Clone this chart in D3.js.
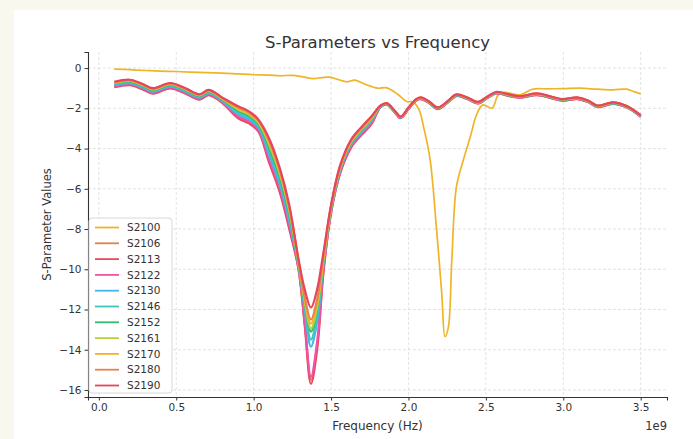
<html>
  <head>
    <title>S-Parameters vs Frequency</title>
    <style>
      html, body {
        margin: 0;
        padding: 0;
        background: #f9f8ef;
      }
      svg text {
        font-family: "DejaVu Sans", sans-serif;
        fill: #333;
      }
    </style>
  </head>
  <body>

<svg id="viz"></svg>

<script src="https://d3js.org/d3.v7.min.js"></script>
<script>
// frequency in units of 1e9 Hz
var freqS2100 = [0.10,0.20,0.30,0.40,0.50,0.60,0.70,0.80,0.90,1.00,1.10,1.17,1.25,1.32,1.385,1.44,1.49,1.55,1.60,1.655,1.72,1.80,1.86,1.93,1.99,2.03,2.07,2.10,2.14,2.18,2.215,2.236,2.258,2.28,2.31,2.355,2.40,2.44,2.48,2.54,2.58,2.62,2.72,2.80,2.90,3.00,3.11,3.22,3.32,3.41,3.45,3.50];
var valS2100 = [-0.05,-0.08,-0.12,-0.15,-0.17,-0.20,-0.23,-0.25,-0.29,-0.33,-0.35,-0.38,-0.36,-0.44,-0.52,-0.47,-0.45,-0.58,-0.68,-0.60,-0.80,-1.00,-0.98,-1.30,-1.66,-1.68,-2.10,-3.00,-4.56,-7.88,-11.2,-13.35,-12.86,-9.54,-5.89,-4.56,-3.40,-2.32,-1.83,-1.99,-1.33,-1.21,-1.33,-1.05,-1.03,-1.02,-1.00,-1.05,-1.08,-1.05,-1.15,-1.28];

var bandFreq = [0.10,0.20,0.28,0.35,0.46,0.56,0.65,0.71,0.80,0.90,0.97,1.03,1.10,1.17,1.23,1.29,1.33,1.37,1.41,1.45,1.50,1.56,1.63,1.70,1.76,1.82,1.86,1.91,1.95,2.00,2.05,2.08,2.13,2.19,2.25,2.31,2.38,2.45,2.51,2.57,2.65,2.72,2.83,2.92,2.99,3.09,3.16,3.22,3.32,3.41,3.50];

var valS2106 = [-0.92,-0.82,-1.02,-1.24,-0.98,-1.24,-1.54,-1.32,-1.72, -2.45,-2.70,-3.10,-4.60,-6.10,-7.90, -10.0,-12.7,-15.5,-13.8,-10.2, -7.15,-5.15,-3.90,-3.25,-2.75,
  -1.93,-1.81,-2.18,-2.48,-2.03,-1.61,-1.53,-1.71,-2.03,-1.73,-1.38,-1.53,-1.75,-1.48,-1.25,-1.38,-1.47,-1.33,-1.48,-1.61,-1.53,-1.68,-1.93,-1.77,-1.95,-2.41];
var valS2113 = [-0.95,-0.85,-1.05,-1.27,-1.01,-1.27,-1.57,-1.35,-1.75, -2.50,-2.75,-3.15,-4.70,-6.20,-8.00, -10.0,-12.8,-15.7,-14.0,-10.2, -7.20,-5.20,-3.95,-3.30,-2.80,
  -1.94,-1.82,-2.19,-2.49,-2.04,-1.62,-1.54,-1.72,-2.04,-1.74,-1.39,-1.54,-1.76,-1.49,-1.26,-1.39,-1.48,-1.34,-1.49,-1.62,-1.54,-1.69,-1.94,-1.78,-1.96,-2.42];
var valS2122 = [-0.90,-0.80,-1.00,-1.22,-0.96,-1.22,-1.52,-1.30,-1.70, -2.40,-2.65,-3.05,-4.50,-6.00,-7.80, -9.9,-12.6,-15.35,-13.6,-10.0, -7.15,-5.15,-3.90,-3.25,-2.75,
  -1.92,-1.80,-2.17,-2.47,-2.02,-1.60,-1.52,-1.70,-2.02,-1.72,-1.37,-1.52,-1.74,-1.47,-1.24,-1.37,-1.46,-1.32,-1.47,-1.60,-1.52,-1.67,-1.92,-1.76,-1.94,-2.40];
var valS2130 = [-0.85,-0.75,-0.95,-1.17,-0.91,-1.17,-1.47,-1.25,-1.65, -2.30,-2.55,-2.95,-4.30,-5.80,-7.60, -9.8,-12.0,-13.85,-12.6,-9.8, -7.05,-5.05,-3.80,-3.15,-2.65,
  -1.91,-1.79,-2.16,-2.46,-2.01,-1.59,-1.51,-1.69,-2.01,-1.71,-1.36,-1.51,-1.73,-1.46,-1.23,-1.36,-1.45,-1.31,-1.46,-1.59,-1.51,-1.66,-1.91,-1.75,-1.93,-2.39];
var valS2146 = [-0.80,-0.70,-0.90,-1.12,-0.86,-1.12,-1.42,-1.20,-1.60, -2.20,-2.45,-2.85,-4.10,-5.60,-7.40, -9.8,-11.9,-13.5,-12.3,-9.7, -7.00,-5.00,-3.75,-3.10,-2.60,
  -1.90,-1.78,-2.15,-2.45,-2.00,-1.58,-1.50,-1.68,-2.00,-1.70,-1.35,-1.50,-1.72,-1.45,-1.22,-1.35,-1.44,-1.30,-1.45,-1.58,-1.50,-1.65,-1.90,-1.74,-1.92,-2.38];
var valS2152 = [-0.77,-0.67,-0.87,-1.09,-0.83,-1.09,-1.39,-1.17,-1.57, -2.12,-2.37,-2.77,-3.95,-5.45,-7.25, -9.7,-11.7,-13.1,-12.0,-9.6, -6.95,-4.95,-3.70,-3.05,-2.55,
  -1.89,-1.77,-2.14,-2.44,-1.99,-1.57,-1.49,-1.67,-1.99,-1.69,-1.34,-1.49,-1.71,-1.44,-1.21,-1.34,-1.43,-1.29,-1.44,-1.57,-1.49,-1.64,-1.89,-1.73,-1.91,-2.37];
var valS2161 = [-0.74,-0.64,-0.84,-1.06,-0.80,-1.06,-1.36,-1.14,-1.54, -2.06,-2.31,-2.71,-3.80,-5.30,-7.10, -9.7,-11.6,-12.95,-11.9,-9.6, -6.92,-4.92,-3.67,-3.02,-2.52,
  -1.88,-1.76,-2.13,-2.43,-1.98,-1.56,-1.48,-1.66,-1.98,-1.68,-1.33,-1.48,-1.70,-1.43,-1.20,-1.33,-1.42,-1.28,-1.43,-1.56,-1.48,-1.63,-1.88,-1.72,-1.90,-2.36];
var valS2170 = [-0.72,-0.62,-0.82,-1.04,-0.78,-1.04,-1.34,-1.12,-1.52, -2.00,-2.25,-2.65,-3.70,-5.20,-7.00, -9.6,-11.5,-12.7,-11.7,-9.5, -6.90,-4.90,-3.65,-3.00,-2.50,
  -1.88,-1.76,-2.13,-2.43,-1.98,-1.56,-1.48,-1.66,-1.98,-1.68,-1.33,-1.48,-1.70,-1.43,-1.20,-1.33,-1.42,-1.28,-1.43,-1.56,-1.48,-1.63,-1.88,-1.72,-1.90,-2.36];
var valS2180 = [-0.70,-0.60,-0.80,-1.02,-0.76,-1.02,-1.32,-1.10,-1.50, -1.95,-2.20,-2.60,-3.60,-5.10,-6.90, -9.6,-11.4,-12.5,-11.5,-9.4, -6.85,-4.85,-3.60,-2.95,-2.45,
  -1.87,-1.75,-2.12,-2.42,-1.97,-1.55,-1.47,-1.65,-1.97,-1.67,-1.32,-1.47,-1.69,-1.42,-1.19,-1.32,-1.41,-1.27,-1.42,-1.55,-1.47,-1.62,-1.87,-1.71,-1.89,-2.35];
var valS2190 = [-0.68,-0.58,-0.78,-1.00,-0.74,-1.00,-1.30,-1.08,-1.48, -1.90,-2.15,-2.55,-3.50,-5.00,-6.80, -9.5,-11.0,-11.9,-11.0,-9.2, -6.80,-4.80,-3.55,-2.90,-2.40,
  -1.86,-1.74,-2.11,-2.41,-1.96,-1.54,-1.46,-1.64,-1.96,-1.66,-1.31,-1.46,-1.68,-1.41,-1.18,-1.31,-1.40,-1.26,-1.41,-1.54,-1.46,-1.61,-1.86,-1.70,-1.88,-2.34];

var seriesNames = ["S2100","S2106","S2113","S2122","S2130","S2146","S2152","S2161","S2170","S2180","S2190"];
var seriesColors = ["#f0b429","#e07f52","#e84a60","#f052a8","#40b8ef","#3ec6bf","#2fbd6f","#b4d23e","#f6b12a","#e8824f","#e6465c"];
var xTicks = [0.0,0.5,1.0,1.5,2.0,2.5,3.0,3.5];
var yTicks = [0,-2,-4,-6,-8,-10,-12,-14,-16];

var width = 693;
var height = 439;

var series = [
  {name: "S2100", x: freqS2100, y: valS2100},
  {name: "S2106", x: bandFreq, y: valS2106},
  {name: "S2113", x: bandFreq, y: valS2113},
  {name: "S2122", x: bandFreq, y: valS2122},
  {name: "S2130", x: bandFreq, y: valS2130},
  {name: "S2146", x: bandFreq, y: valS2146},
  {name: "S2152", x: bandFreq, y: valS2152},
  {name: "S2161", x: bandFreq, y: valS2161},
  {name: "S2170", x: bandFreq, y: valS2170},
  {name: "S2180", x: bandFreq, y: valS2180},
  {name: "S2190", x: bandFreq, y: valS2190}
];

var svg = d3.select("#viz").attr("width", width).attr("height", height)
    .style("display", "block");

// white figure panel on the cream page
svg.append("rect")
    .attr("x", 14).attr("y", 10)
    .attr("width", width - 14).attr("height", height - 10)
    .attr("fill", "#fff");

var plot = {left: 88, right: 667, top: 52, bottom: 397};

var x = d3.scaleLinear().domain([-0.07, 3.67]).range([plot.left, plot.right]);
var y = d3.scaleLinear().domain([-16.35, 0.8]).range([plot.bottom, plot.top]);

// grid
var grid = svg.append("g").attr("class", "grid");
grid.selectAll("line.gx")
    .data(xTicks)
    .enter()
    .append("line")
    .attr("x1", function(d) { return x(d); })
    .attr("x2", function(d) { return x(d); })
    .attr("y1", plot.top)
    .attr("y2", plot.bottom)
    .attr("stroke", "#dcdcdc")
    .attr("stroke-width", 0.8)
    .attr("stroke-dasharray", "3,2");
grid.selectAll("line.gy")
    .data(yTicks)
    .enter()
    .append("line")
    .attr("x1", plot.left)
    .attr("x2", plot.right)
    .attr("y1", function(d) { return y(d); })
    .attr("y2", function(d) { return y(d); })
    .attr("stroke", "#dcdcdc")
    .attr("stroke-width", 0.8)
    .attr("stroke-dasharray", "3,2");

// lines
var line = d3.line()
    .x(function(d) { return x(d[0]); })
    .y(function(d) { return y(d[1]); })
    .curve(d3.curveCatmullRom.alpha(0.5));

var lines = svg.append("g").attr("class", "lines");
series.forEach(function(s, i) {
  var pts = s.x.map(function(f, j) { return [f, s.y[j]]; });
  lines.append("path")
      .datum(pts)
      .attr("d", line)
      .attr("fill", "none")
      .attr("stroke", seriesColors[i])
      .attr("stroke-width", i == 0 ? 1.7 : 2.2)
      .attr("stroke-linejoin", "round");
});

// axes, only left and bottom spines
var minus = function(v) { return String(v).replace("-", "\u2212"); };

var xAxis = svg.append("g")
    .attr("transform", "translate(0," + plot.bottom + ")")
    .call(d3.axisBottom(x).tickValues(xTicks).tickSizeOuter(0).tickSize(3.5).tickPadding(3)
      .tickFormat(function(d) { return d3.format(".1f")(d); }));
var yAxis = svg.append("g")
    .attr("transform", "translate(" + plot.left + ",0)")
    .call(d3.axisLeft(y).tickValues(yTicks).tickSizeOuter(0).tickSize(3.5).tickPadding(3)
      .tickFormat(minus));

[xAxis, yAxis].forEach(function(a) {
  a.select(".domain").attr("stroke", "#333").attr("stroke-width", 1.1);
  a.selectAll(".tick line").attr("stroke", "#333");
  a.selectAll(".tick text")
      .style("font-family", "DejaVu Sans")
      .style("font-size", "10.5px")
      .attr("fill", "#333");
});

// titles
svg.append("text")
    .attr("x", (plot.left + plot.right) / 2)
    .attr("y", 48)
    .attr("text-anchor", "middle")
    .style("font-size", "16.5px")
    .text("S-Parameters vs Frequency");

svg.append("text")
    .attr("x", (plot.left + plot.right) / 2)
    .attr("y", 430)
    .attr("text-anchor", "middle")
    .style("font-size", "12px")
    .text("Frequency (Hz)");

svg.append("text")
    .attr("x", plot.right)
    .attr("y", 430)
    .attr("text-anchor", "end")
    .style("font-size", "11.5px")
    .text("1e9");

svg.append("text")
    .attr("transform", "translate(51," + ((plot.top + plot.bottom) / 2) + ") rotate(-90)")
    .attr("text-anchor", "middle")
    .style("font-size", "11.5px")
    .text("S-Parameter Values");

// legend
var legend = svg.append("g").attr("transform", "translate(89,218)");
legend.append("rect")
    .attr("width", 83)
    .attr("height", 175)
    .attr("rx", 3)
    .attr("fill", "#fff")
    .attr("fill-opacity", 0.85)
    .attr("stroke", "#d8d8d8");

var item = legend.selectAll("g.item")
    .data(seriesNames)
    .enter()
    .append("g")
    .attr("transform", function(d, i) { return "translate(0," + (9.5 + i * 15.8) + ")"; });
item.append("line")
    .attr("x1", 6).attr("x2", 30)
    .attr("stroke", function(d, i) { return seriesColors[i]; })
    .attr("stroke-width", 1.8);
item.append("text")
    .attr("x", 38)
    .attr("dy", "0.35em")
    .style("font-size", "10.5px")
    .text(function(d) { return d; });
</script>

  </body>
</html>
